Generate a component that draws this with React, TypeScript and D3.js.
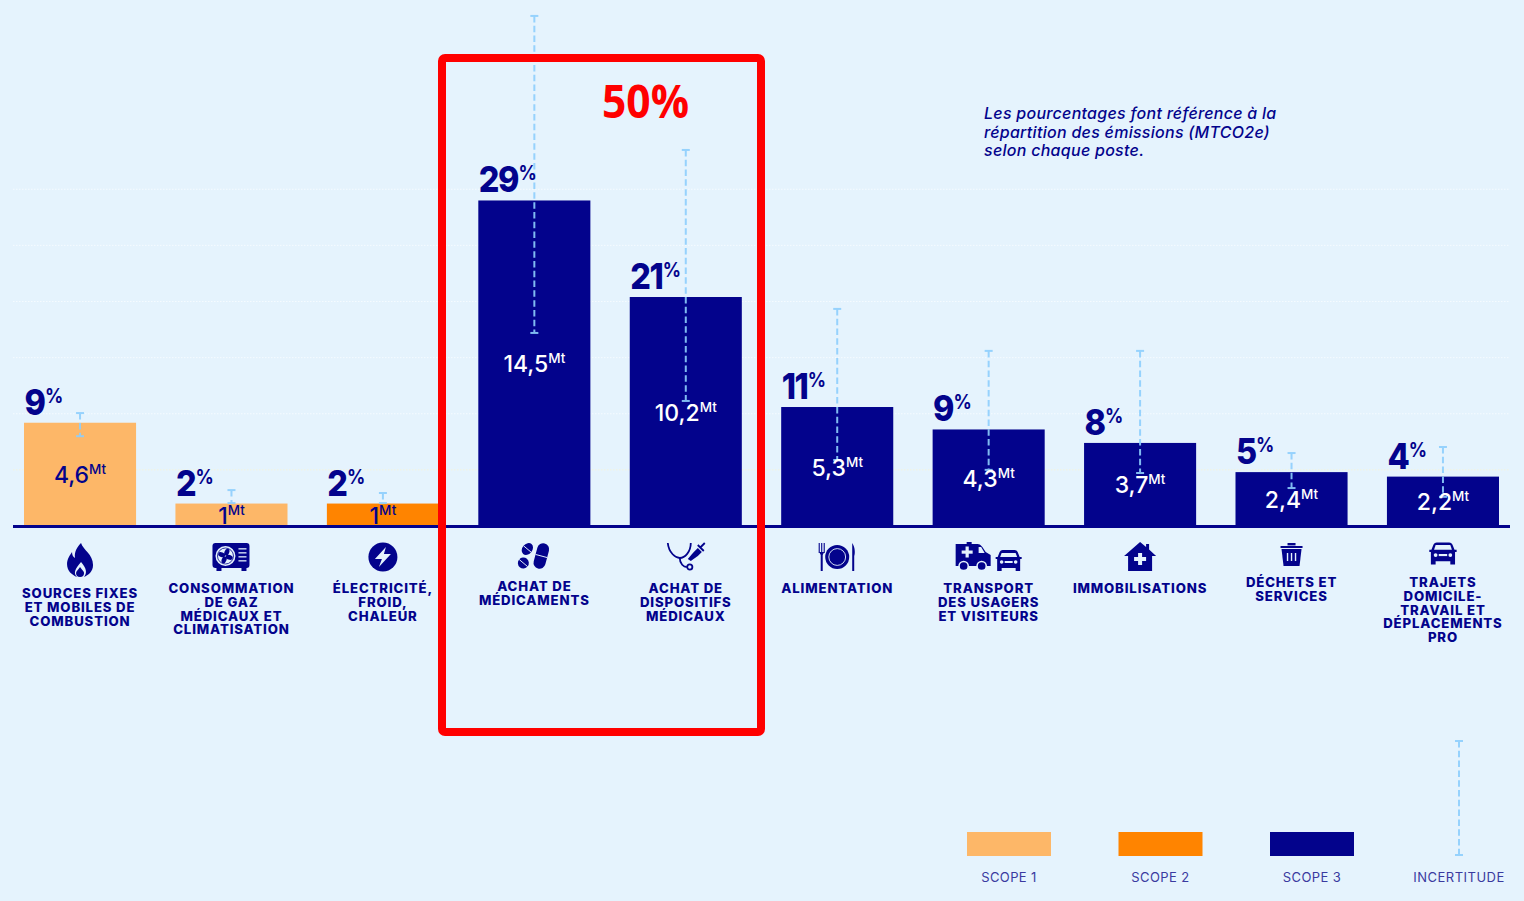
import React from "react";
import * as d3 from "d3";

const categories = ["sources","gaz","elec","medicaments","dispositifs","alimentation","transport","immobilisations","dechets","trajets"];
const labelLines = [
  ["SOURCES FIXES","ET MOBILES DE","COMBUSTION"],
  ["CONSOMMATION","DE GAZ","MÉDICAUX ET","CLIMATISATION"],
  ["ÉLECTRICITÉ,","FROID,","CHALEUR"],
  ["ACHAT DE","MÉDICAMENTS"],
  ["ACHAT DE","DISPOSITIFS","MÉDICAUX"],
  ["ALIMENTATION"],
  ["TRANSPORT","DES USAGERS","ET VISITEURS"],
  ["IMMOBILISATIONS"],
  ["DÉCHETS ET","SERVICES"],
  ["TRAJETS","DOMICILE-","TRAVAIL ET","DÉPLACEMENTS","PRO"],
];
const valuesMt = [4.6,1,1,14.5,10.2,5.3,4.3,3.7,2.4,2.2];
const valueLabels = ["4,6","1","1","14,5","10,2","5,3","4,3","3,7","2,4","2,2"];
const percents = [9,2,2,29,21,11,9,8,5,4];
const scopes = [1,1,2,3,3,3,3,3,3,3];
const errorHigh = [5.03,1.6,1.47,22.72,16.75,9.67,7.8,7.8,3.25,3.52];
const errorLow = [4.0,1.02,1.02,8.6,5.57,2.94,2.5,2.36,1.69,1.3];
const gridValues = [2.5,5,7.5,10,12.5,15];
const legendItems = ["SCOPE 1","SCOPE 2","SCOPE 3"];
const noteLines = ["Les pourcentages font référence à la","répartition des émissions (MTCO2e)","selon chaque poste."];

const labelFirstBaseline = [598,593,593,591,593,593,593,593,587,587];
const iconCenterY = [560,557,557,556,556,557,557,557,555,554];

const NAVY = "#03038c";
const BG = "#e5f3fd";
const ERR = "#8ecffd";
const scopeColor = d3.scaleOrdinal<number,string>().domain([1,2,3]).range(["#fdb768","#ff8400",NAVY]);

const FONT = "Inter, 'Open Sans', sans-serif";

function Icon({name}:{name:string}){
  switch(name){
    case "sources": return <g fill={NAVY}>
      <path d="M1,-17 C3,-10 13,-6 13,5 C13,12 8,15 4,17 C7,13 7,9 1,2 C-5,9 -7,13 -3,17 C-8,15 -13,11 -13,4 C-13,-1 -10,-5 -8,-8 C-8,-5 -7,-3 -5,-2 C-6,-8 -3,-13 1,-17Z"/>
      <path d="M0,7 C2,10 4,11 4,13 A4,4 0 0 1 -4,13 C-4,11 -2,10 0,7Z"/>
    </g>;
    case "gaz": return <g>
      <rect x={-19} y={-14} width={37} height={25} rx={3} fill={NAVY}/>
      <rect x={-15} y={10} width={5} height={4} fill={NAVY}/><rect x={10} y={10} width={5} height={4} fill={NAVY}/>
      <circle cx={-6} cy={-1} r={10} fill={BG}/>
      <circle cx={-6} cy={-1} r={8} fill="none" stroke={NAVY} strokeWidth={0.8}/>
      {[0,90,180,270].map(a=><ellipse key={a} cx={-6} cy={-5} rx={2.4} ry={3.6} fill={NAVY} transform={`rotate(${a+20} -6 -1)`}/>)}
      {[-9,-5,-1,3].map(y=><rect key={y} x={7} y={y} width={8} height={1.6} fill={BG} opacity={0.8}/>)}
    </g>;
    case "elec": return <g>
      <circle r={14.5} fill={NAVY}/>
      <path d="M3,-10 L-8,2 L-1,2 L-4,10 L8,-3 L1,-3 Z" fill={BG}/>
    </g>;
    case "medicaments": return <g fill={NAVY}>
      <g transform="translate(7,0) rotate(15)">
        <rect x={-6} y={-13} width={12} height={26} rx={6}/>
        <line x1={-6} x2={6} y1={0} y2={0} stroke={BG} strokeWidth={0.9}/>
      </g>
      <g transform="translate(-7,-7) rotate(40)">
        <ellipse rx={5} ry={6.5}/><line x1={-5} x2={5} stroke={BG} strokeWidth={0.9}/>
      </g>
      <g transform="translate(-11,7) rotate(40)">
        <ellipse rx={5.5} ry={5.5}/><line x1={-5.5} x2={5.5} stroke={BG} strokeWidth={0.9}/>
      </g>
    </g>;
    case "dispositifs": return <g>
      <path d="M-18,-13 C-17,-3 -10,2 -6,2 C-1,2 5,-4 5,-13" fill="none" stroke={NAVY} strokeWidth={1.8}/>
      <path d="M-6,2 C-6,8 -2,11 1,11" fill="none" stroke={NAVY} strokeWidth={1.8}/>
      <circle cx={4} cy={11} r={2.6} fill={BG} stroke={NAVY} strokeWidth={1.8}/>
      <path d="M0,4 L6,-3 L10,-7 L14,-3 L10,1 L3,6 Z" fill={NAVY} transform="translate(2,-1)"/>
      <path d="M14,-8 L19,-13 M12,-11 L18,-5" stroke={NAVY} strokeWidth={1.8}/>
    </g>;
    case "alimentation": return <g>
      <circle r={12} fill={NAVY}/>
      <circle r={8.4} fill="none" stroke={BG} strokeWidth={0.9}/>
      <path d="M-18,-14 V-4 M-15.5,-14 V-4 M-13,-14 V-4" stroke={NAVY} strokeWidth={1.1}/>
      <path d="M-18,-5 H-13 L-14.5,-2 V14 H-16.5 V-2 Z" fill={NAVY}/>
      <path d="M15,-14 C18,-10 18,-3 17,-1 V14 H15 Z" fill={NAVY}/>
    </g>;
    case "transport": return <g fill={NAVY}>
      <g transform="translate(-16,0)">
        <path d="M-17,-13 H-6 V-15 H-1 V-13 H5 C8,-13 10,-10 13,-5 L18,-2 V9 H-17 Z"/>
        <path d="M6,-10 H8.5 L12,-4 H6 Z" fill={BG}/>
        <rect x={-11} y={-6.5} width={11} height={3.2} fill={BG}/>
        <rect x={-7.1} y={-10.5} width={3.2} height={11} fill={BG}/>
        <circle cx={-9} cy={9} r={4.6} stroke={BG} strokeWidth={1.5}/>
        <circle cx={9} cy={9} r={4.6} stroke={BG} strokeWidth={1.5}/>
      </g>
      <g transform="translate(20,4)">
        <path d="M-9,-9 Q-8,-11 -6,-11 H6 Q8,-11 9,-9 L11,-4 H13 V-2 H11.5 V10 H7 V7 H-7 V10 H-11.5 V-2 H-13 V-4 H-11 Z"/>
        <path d="M-7,-8 H7 L8.5,-4 H-8.5 Z" fill={BG}/>
        <circle cx={-7} cy={1} r={1.8} fill={BG}/><circle cx={7} cy={1} r={1.8} fill={BG}/>
        <rect x={-4} y={0} width={8} height={2} fill={BG}/>
      </g>
    </g>;
    case "immobilisations": return <g>
      <path d="M0,-15 L6,-10 V-13 H9 V-7.5 L16,-1 H12 V14 H-12 V-1 H-16 Z" fill={NAVY}/>
      <rect x={-6} y={0} width={12} height={4} fill={BG}/>
      <rect x={-2} y={-4} width={4} height={12} fill={BG}/>
    </g>;
    case "dechets": return <g>
      <path d="M-10,-6 H10 L8,11 H-8 Z" fill={NAVY}/>
      <rect x={-11} y={-9} width={22} height={2} fill={NAVY}/>
      <rect x={-4} y={-12} width={8} height={2.4} fill={NAVY}/>
      {[-4,0,4].map(x=><rect key={x} x={x-0.7} y={-2} width={1.4} height={8} fill={BG}/>)}
    </g>;
    default: return <g fill={NAVY} transform="scale(1.05)">
      <path d="M-9,-9 Q-8,-11 -6,-11 H6 Q8,-11 9,-9 L11,-4 H13 V-2 H11.5 V10 H7 V7 H-7 V10 H-11.5 V-2 H-13 V-4 H-11 Z"/>
      <path d="M-7,-8.5 H7 L8.5,-4 H-8.5 Z" fill={BG}/>
      <circle cx={-7} cy={1} r={1.8} fill={BG}/><circle cx={7} cy={1} r={1.8} fill={BG}/>
      <rect x={-4} y={0} width={8} height={2} fill={BG}/>
    </g>;
  }
}

function ErrorBar({x,y0,y1}:{x:number,y0:number,y1:number}){
  return <g stroke={ERR} strokeWidth={2} opacity={0.9}>
    <line x1={x} x2={x} y1={y0} y2={y1} strokeDasharray="6.5 3.3"/>
    <line x1={x-4} x2={x+4} y1={y0} y2={y0}/>
    <line x1={x-4} x2={x+4} y1={y1} y2={y1}/>
  </g>;
}

export default function App(){
  const x = d3.scaleBand<string>().domain(categories).range([24,1499]).paddingInner(0.26).paddingOuter(0);
  const y = d3.scaleLinear().domain([0,20]).range([526,77]);
  const legendX = d3.scalePoint<string>().domain(legendItems).range([1009,1312]);
  const w = x.bandwidth();
  return (
    <svg width={1524} height={901} style={{position:"fixed",left:0,top:0,background:BG,fontFamily:FONT}}>
      <rect width={1524} height={901} fill={BG}/>
      {gridValues.map((v,i)=>(
        <line key={v} x1={13} x2={1510} y1={y(v)} y2={y(v)} stroke={i===0?"#f4f3dc":"#f5fbff"} strokeWidth={1} strokeDasharray="1.5 1.5"/>
      ))}
      {categories.map((c,i)=>(
        <rect key={c} x={x(c)} y={y(valuesMt[i])} width={w} height={y(0)-y(valuesMt[i])} fill={scopeColor(scopes[i])}/>
      ))}
      <line x1={13} x2={1510} y1={y(0)+0.5} y2={y(0)+0.5} stroke={NAVY} strokeWidth={3}/>
      {categories.map((c,i)=>(
        <ErrorBar key={c} x={x(c)!+w/2} y0={y(errorHigh[i])} y1={y(errorLow[i])}/>
      ))}
      {categories.map((c,i)=>{
        const top = y(valuesMt[i]);
        const h = y(0)-top;
        return <g key={c}>
          <text transform={`translate(${x(c)!+0.5},${top-8}) scale(0.9,1)`} fill={NAVY} fontSize={36} fontWeight={800} letterSpacing={-1.6}>
            {percents[i]}<tspan fontSize={20} fontWeight={700} dx={0.5} dy={-12} letterSpacing={0}>%</tspan>
          </text>
          <text x={x(c)!+w/2} y={y(0)-(h/2-8)+1} textAnchor="middle" fill={scopes[i]===3?"#fff":NAVY} fontSize={23} fontWeight={500}>
            {valueLabels[i]}<tspan fontSize={13.5} dy={-9}>Mt</tspan>
          </text>
          <g transform={`translate(${x(c)!+w/2},${iconCenterY[i]})`}><Icon name={c}/></g>
          <text textAnchor="middle" fill={NAVY} fontSize={13.2} fontWeight={800} letterSpacing={0.85}>
            {labelLines[i].map((l,k)=><tspan key={k} x={x(c)!+w/2} y={labelFirstBaseline[i]+k*13.8}>{l}</tspan>)}
          </text>
        </g>;
      })}
      <g fill={NAVY} fontSize={16} fontStyle="italic" fontWeight={500} letterSpacing={0.28}>
        {noteLines.map((l,i)=><text key={l} x={984} y={119+i*18.7}>{l}</text>)}
      </g>
      {legendItems.map((l,i)=>(
        <g key={l}>
          <rect x={legendX(l)!-42} y={832} width={84} height={24} fill={scopeColor(i+1)}/>
          <text x={legendX(l)} y={882} textAnchor="middle" fill="#3a3aa0" fontSize={13} letterSpacing={0.4}>{l}</text>
        </g>
      ))}
      <ErrorBar x={1459} y0={741} y1={855}/>
      <text x={1459} y={882} textAnchor="middle" fill="#3a3aa0" fontSize={13} letterSpacing={0.5}>INCERTITUDE</text>
      <rect x={442} y={58} width={319} height={674} rx={3} fill="none" stroke="#ff0000" strokeWidth={8}/>
      <text transform="translate(602,118) scale(0.925,1)" fill="#ff0000" fontSize={46} fontWeight={700} fontFamily="'Open Sans', sans-serif">50%</text>
    </svg>
  );
}
